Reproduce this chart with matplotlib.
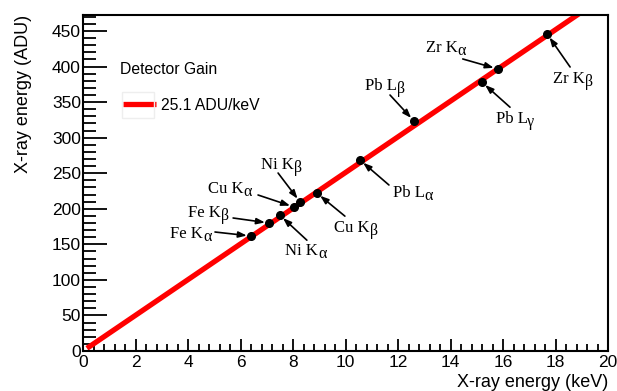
import matplotlib
matplotlib.use("Agg")
import matplotlib.pyplot as plt
import numpy as np
from matplotlib.ticker import MultipleLocator
from matplotlib.patches import Rectangle

plt.rcParams['font.family'] = ['Liberation Sans', 'DejaVu Sans']

# data
names = ["Fe K", "Fe K", "Ni K", "Cu K", "Ni K", "Cu K", "Pb L", "Pb L", "Pb L", "Zr K", "Zr K"]
subs = ["α", "β", "α", "α", "β", "β", "α", "β", "γ", "α", "β"]
energy_kev = [6.40, 7.09, 7.50, 8.04, 8.27, 8.91, 10.55, 12.61, 15.20, 15.80, 17.68]
energy_adu = [161.7, 180.0, 191.0, 202.5, 209.5, 222.0, 268.6, 323.4, 378.0, 396.6, 445.8]
gain = 25.1
fit_range = [0.15, 20.0]

# annotation styling: (arrow start offset, text center offset) in pixels
arrow_off = [(-36, 4), (-36, 5), (27, -25), (-36, 12), (-22, 29), (28, -23),
             (29, -25), (-24, 26), (28, -25), (-35, 10), (23, -33)]
text_off = [(-60, 3), (-61, 11), (26, -35), (-64, 19), (-19, 38), (39, -34),
            (53, -32), (-29, 36), (33, -36), (-52, 22), (26, -44)]

serif = ['Liberation Serif', 'DejaVu Serif']
fs_main, fs_sub = 12.0, 11.5

fig = plt.figure(figsize=(6.17, 3.91), dpi=100)
ax = fig.add_axes([83/617, 40/391, 525/617, 336/391])

fx = np.array(fit_range)
ax.plot(fx, gain*fx, color='#ff0000', lw=3.8, solid_capstyle='butt', zorder=2,
        label=f"{gain} ADU/keV")
ax.plot(energy_kev, energy_adu, 'o', color='black', ms=5.5, zorder=3)

renderer = fig.canvas.get_renderer()
def text_width(s, fs):
    t = fig.text(0, 0, s, fontsize=fs, fontfamily=serif)
    w = t.get_window_extent(renderer).width
    t.remove()
    return w

for nm, sb, x, y, ao, to in zip(names, subs, energy_kev, energy_adu, arrow_off, text_off):
    ax.annotate("", xy=(x, y), xytext=ao, textcoords='offset pixels',
                arrowprops=dict(arrowstyle='-|>,head_length=0.5,head_width=0.18',
                                color='black', lw=1.2, shrinkA=0, shrinkB=3),
                zorder=4)
    w1 = text_width(nm, fs_main)
    w2 = text_width(sb, fs_sub)
    x0 = to[0] - (w1 + w2) / 2
    yb = to[1] - 5
    ax.annotate(nm, xy=(x, y), xytext=(x0, yb), textcoords='offset pixels',
                ha='left', va='baseline', fontsize=fs_main, fontfamily=serif, zorder=4)
    ax.annotate(sb, xy=(x, y), xytext=(x0 + w1, yb - 3), textcoords='offset pixels',
                ha='left', va='baseline', fontsize=fs_sub, fontfamily=serif, zorder=4)

ax.set_xlim(0, 20)
ax.set_ylim(0, 472.5)
ax.xaxis.set_major_locator(MultipleLocator(2))
ax.xaxis.set_minor_locator(MultipleLocator(0.4))
ax.yaxis.set_major_locator(MultipleLocator(50))
ax.yaxis.set_minor_locator(MultipleLocator(10))
ax.tick_params(axis='x', which='major', direction='in', length=9, width=1.3, labelsize=12.5, pad=3)
ax.tick_params(axis='x', which='minor', direction='in', length=5, width=1.3)
ax.tick_params(axis='y', which='major', direction='in', length=17, width=1.3, labelsize=12.5, pad=1.5)
ax.tick_params(axis='y', which='minor', direction='in', length=9, width=1.3)
for s in ax.spines.values():
    s.set_linewidth(1.5)

ax.set_xlabel("X-ray energy (keV)", fontsize=13, loc='right', labelpad=3)
ax.set_ylabel("X-ray energy (ADU)", fontsize=13, loc='top', labelpad=14)

fig.text(120/617, 1 - 70/391, "Detector Gain", fontsize=11.3, va='center', ha='left')
fig.patches.append(Rectangle((122/617, 1 - 118/391), 32/617, 26/391,
                             transform=fig.transFigure, fill=False,
                             edgecolor='#eeeeee', lw=1.0))
leg = ax.legend(loc='center left', frameon=False, fontsize=11.3,
                handlelength=2.1, handletextpad=0.35, borderpad=0, borderaxespad=0)
leg.set_bbox_to_anchor((123/617, 1 - 105/391), transform=fig.transFigure)

fig.savefig("out.png", dpi=100)
